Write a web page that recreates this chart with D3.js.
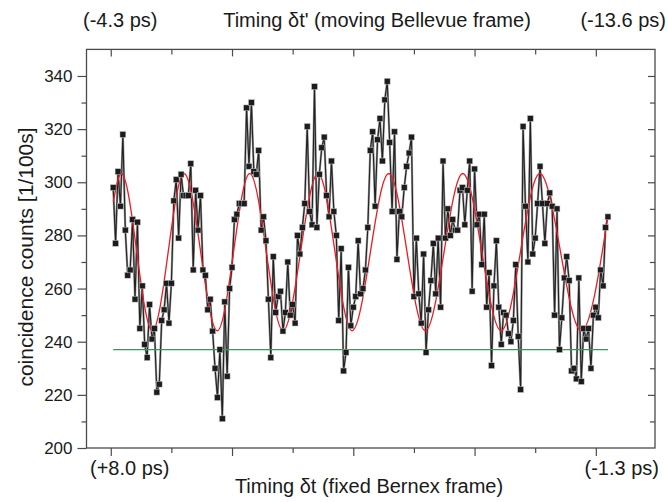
<!DOCTYPE html>
<html>
<head>
<meta charset="utf-8">
<script src="https://cdn.jsdelivr.net/npm/d3@7"></script>
<style>
  html, body { margin: 0; padding: 0; background: #fff; }
  svg { display: block; }
  text { font-family: "Liberation Sans", Arial, Helvetica, sans-serif; fill: #1a1a1a; }
</style>
</head>
<body>
<svg id="chart" width="668" height="502"></svg>
<script>
// ---- data ----
// coincidence counts per 100 s, one value per scan step (step index 1..205)
const counts = [
  298, 277, 304, 291, 318, 282, 265, 267, 286, 256, 285, 245, 261, 239, 234, 254, 241, 245, 221, 224, 248, 252, 262, 247, 262, 293, 301, 279, 303, 295, 295, 295,
  307, 267, 297, 282, 295, 267, 265, 252, 256, 244, 230, 219, 237, 211, 255, 227, 260, 268, 286, 288, 292, 292, 292, 328, 306, 330, 304, 303, 312, 282, 287, 278, 256, 234, 272,
  251, 257, 259, 244, 251, 270, 250, 254, 247, 280, 273, 283, 292, 321, 289, 284, 336, 283, 303, 313, 317, 295, 287, 308, 289, 280, 248, 275, 229, 236, 268, 246, 253, 257, 278,
  258, 260, 267, 283, 312, 319, 291, 316, 324, 308, 331, 338, 315, 289, 319, 271, 289, 287, 298, 306, 311, 317, 257, 279, 258, 247, 273, 236, 252, 263, 277, 258, 279, 253, 308,
  279, 290, 280, 286, 282, 282, 297, 298, 284, 297, 308, 259, 305, 284, 288, 269, 288, 253, 266, 231, 261, 278, 253, 239, 251, 250, 243, 240, 248, 269, 242, 222, 321, 291, 270,
  324, 273, 279, 292, 306, 292, 277, 292, 296, 291, 250, 290, 237, 249, 264, 272, 263, 229, 230, 226, 264, 225, 245, 241, 245, 230, 250, 253, 249, 267, 261, 283, 287
];
const steps = counts.map((_, i) => i + 1);

// fitted fringe (red): its end points and extrema
const fitSteps  = [1.05, 4.35, 17.13, 30.21, 43.94, 57.30, 71.03, 85.46, 99.48, 114.62, 129.71, 145.13, 160.93, 176.89, 194.04, 204.93];
const fitCounts = [292.7, 303.3, 244.1, 303.3, 244.1, 303.3, 244.1, 303.3, 244.1, 303.3, 244.1, 303.3, 244.1, 303.3, 244.1, 287.0];

// background level (green)
const backgroundSteps = [1, 205];
const backgroundLevel = [237, 237];

// axis ticks and labels
const yTickValues = [200, 220, 240, 260, 280, 300, 320, 340];
const yMinorValues = [210, 230, 250, 270, 290, 310, 330];
const xMajorTicks = [0, 50, 100, 150, 200];
const xMinorTicks = [25, 75, 125, 175];
const topTitle = "Timing \u03B4t' (moving Bellevue frame)";
const topLeftLabel = "(-4.3 ps)";
const topRightLabel = "(-13.6 ps)";
const bottomTitle = "Timing \u03B4t (fixed Bernex frame)";
const bottomLeftLabel = "(+8.0 ps)";
const bottomRightLabel = "(-1.3 ps)";
const yTitle = "coincidence counts [1/100s]";

// ---- drawing ----
const svg = d3.select("#chart");
const L = 86.5, R = 655, T = 49.4, B = 448;
const x = d3.scaleLinear().domain([-10, 224.4]).range([L, R]);
const y = d3.scaleLinear().domain([200, 350]).range([B, T]);
const axisColor = "#4a4a4a";

function styleAxis(g) {
  g.select(".domain").remove();
  g.selectAll(".tick line").attr("stroke", axisColor).attr("stroke-width", 1.2);
  g.selectAll(".tick text").remove();
}

// bottom (outward)
svg.append("g").attr("transform", `translate(0,${B})`)
  .call(d3.axisBottom(x).tickValues(xMajorTicks).tickSize(8)).call(styleAxis);
svg.append("g").attr("transform", `translate(0,${B})`)
  .call(d3.axisBottom(x).tickValues(xMinorTicks).tickSize(5)).call(styleAxis);
// top (inward)
svg.append("g").attr("transform", `translate(0,${T})`)
  .call(d3.axisBottom(x).tickValues(xMajorTicks).tickSize(7)).call(styleAxis);
svg.append("g").attr("transform", `translate(0,${T})`)
  .call(d3.axisBottom(x).tickValues(xMinorTicks).tickSize(5)).call(styleAxis);
// left (outward)
const leftG = svg.append("g").attr("transform", `translate(${L},0)`)
  .call(d3.axisLeft(y).tickValues(yTickValues).tickSize(9).tickPadding(5));
leftG.select(".domain").remove();
leftG.selectAll(".tick line").attr("stroke", axisColor).attr("stroke-width", 1.2);
leftG.selectAll(".tick text")
  .style("font-family", '"Liberation Sans", Arial, sans-serif')
  .style("font-size", "17px").attr("fill", "#1a1a1a");
svg.append("g").attr("transform", `translate(${L},0)`)
  .call(d3.axisLeft(y).tickValues(yMinorValues).tickSize(5)).call(styleAxis);
// right (inward)
svg.append("g").attr("transform", `translate(${R},0)`)
  .call(d3.axisLeft(y).tickValues(yTickValues.slice(1)).tickSize(7)).call(styleAxis);
svg.append("g").attr("transform", `translate(${R},0)`)
  .call(d3.axisLeft(y).tickValues(yMinorValues).tickSize(5)).call(styleAxis);

// frame
svg.append("rect").attr("x", L).attr("y", T).attr("width", R - L).attr("height", B - T)
  .attr("fill", "none").attr("stroke", axisColor).attr("stroke-width", 1.3);

// data line
const pts = steps.map((s, i) => [s, counts[i]]);
svg.append("path").datum(pts)
  .attr("fill", "none").attr("stroke", "#9a9a9a").attr("stroke-width", 2.2)
  .attr("d", d3.line().x(d => x(d[0])).y(d => y(d[1])));
svg.append("path").datum(pts)
  .attr("fill", "none").attr("stroke", "#222").attr("stroke-width", 1.1)
  .attr("d", d3.line().x(d => x(d[0])).y(d => y(d[1])));

// fit curve
const fitPts = fitSteps.map((s, i) => [s, fitCounts[i]]);
svg.append("path").datum(fitPts)
  .attr("fill", "none").attr("stroke", "#ec1c24").attr("stroke-width", 1.3)
  .attr("d", d3.line().curve(d3.curveMonotoneX).x(d => x(d[0])).y(d => y(d[1])));

// background level
const bgPts = backgroundSteps.map((s, i) => [s, backgroundLevel[i]]);
svg.append("path").datum(bgPts)
  .attr("fill", "none").attr("stroke", "#00b84a").attr("stroke-width", 1.3)
  .attr("d", d3.line().x(d => x(d[0])).y(d => y(d[1])));

// markers
const ms = 5.8;
svg.append("g").selectAll("rect").data(pts).join("rect")
  .attr("x", d => x(d[0]) - ms / 2).attr("y", d => y(d[1]) - ms / 2)
  .attr("width", ms).attr("height", ms)
  .attr("fill", "#1c1c1c").attr("stroke", "#bdbdbd").attr("stroke-width", 0.5);

// texts
function label(txt, xx, yy, anchor, size) {
  svg.append("text").attr("x", xx).attr("y", yy).attr("text-anchor", anchor)
    .style("font-size", size + "px").text(txt);
}
label(topLeftLabel, 83, 27, "start", 20);
label(topTitle, 377, 27, "middle", 20);
label(topRightLabel, 666, 27, "end", 20);
label(bottomLeftLabel, 90, 475, "start", 20);
label(bottomTitle, 369, 493, "middle", 20);
label(bottomRightLabel, 659, 475, "end", 20);

svg.append("text")
  .attr("transform", `translate(33,257) rotate(-90)`)
  .attr("text-anchor", "middle")
  .style("font-size", "21px")
  .text(yTitle);
</script>
</body>
</html>
